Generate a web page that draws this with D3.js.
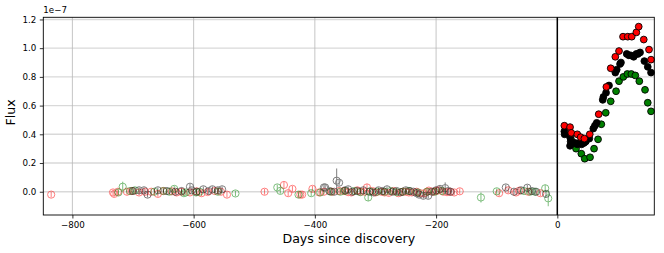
<!DOCTYPE html>
<html>
<head>
<meta charset="utf-8">
<script src="https://cdn.jsdelivr.net/npm/d3@7"></script>
<style>
  body { margin: 0; background: #fff; }
  text { font-family: "DejaVu Sans", sans-serif; fill: #000; }
</style>
</head>
<body>
<div id="chart"></div>
<script>
// flux in units of 1e-7, days since discovery

// detections after discovery (filled markers)
var rDays = [11.6, 21, 23, 33, 38.6, 44.6, 53.5, 68.3, 80.9, 88.1, 95.7, 101.8, 108.4, 116.2, 122.8, 130.4, 134.3, 142.6, 151.3, 154.6];
var rFlux = [0.46, 0.45, 0.41, 0.40, 0.38, 0.37, 0.40, 0.54, 0.73, 0.86, 0.94, 0.98, 1.08, 1.08, 1.08, 1.11, 1.15, 1.06, 0.99, 0.92];

var kDays = [11.6, 12, 21, 21, 22, 29.2, 33, 36.3, 40, 44.1, 47, 52.8, 59.4, 62, 65, 74.9, 76, 80.4, 85.3, 95.7, 98, 103.5, 105, 114.5, 118, 121.1, 126, 130.4, 133, 136.5, 143.6, 149.2, 154.6];
var kFlux = [0.42, 0.40, 0.38, 0.32, 0.35, 0.34, 0.33, 0.34, 0.33, 0.34, 0.35, 0.37, 0.44, 0.46, 0.48, 0.64, 0.66, 0.69, 0.74, 0.83, 0.85, 0.89, 0.90, 0.96, 0.95, 0.95, 0.94, 0.96, 0.96, 0.97, 0.91, 0.87, 0.83];

var gDays = [22.6, 30.9, 39.6, 45.2, 54, 60.6, 67.2, 72.6, 79.9, 88.1, 96.9, 101.8, 108.9, 115.5, 122.1, 128.7, 135.3, 144.7, 149.2, 154.6];
var gFlux = [0.365, 0.30, 0.265, 0.23, 0.24, 0.30, 0.365, 0.47, 0.55, 0.63, 0.70, 0.77, 0.80, 0.82, 0.82, 0.81, 0.77, 0.71, 0.62, 0.56];

// pre-discovery forced photometry (open markers with error bars)
var rPreDays = [-835, -733, -731, -725, -710, -702, -690, -680, -670, -659,
                -650, -636, -628, -620, -606, -595, -587, -577, -565, -555,
                -545, -483, -451, -444, -437, -424, -421, -404, -393, -385,
                -372, -360, -352, -345, -340, -330, -325, -318, -314, -305,
                -300, -290, -285, -278, -270, -262, -255, -250, -245, -240,
                -232, -226, -220, -215, -212, -205, -200, -196, -188, -182,
                -177, -170, -161, -96, -81, -68, -63, -48, -28];
var rPreFlux = [-0.02, -0.005, -0.015, 0.0, 0.0, 0.005, -0.005, 0.0, 0.0, -0.015,
                0.005, 0.003, -0.005, 0.0, -0.005, 0.003, -0.01, -0.002, 0.005, 0.0,
                -0.02, 0.0, 0.047, -0.01, 0.02, -0.02, -0.02, 0.02, -0.005, 0.0,
                0.0, 0.005, 0.005, -0.003, -0.005, 0.01, 0.0, 0.0, 0.03, 0.005,
                -0.005, 0.0, -0.005, -0.008, 0.005, -0.01, 0.0, 0.0, -0.005, -0.005,
                0.0, -0.01, -0.012, 0.0, 0.008, 0.0, 0.005, 0.01, 0.0, -0.003,
                0.0, -0.005, 0.003, -0.01, 0.01, -0.005, 0.007, 0.0, -0.01];
var rPreErr = [0.02, 0.02, 0.02, 0.02, 0.02, 0.02, 0.02, 0.02, 0.02, 0.02,
               0.02, 0.02, 0.02, 0.02, 0.02, 0.02, 0.02, 0.02, 0.02, 0.02,
               0.02, 0.02, 0.025, 0.02, 0.02, 0.02, 0.02, 0.02, 0.02, 0.02,
               0.02, 0.02, 0.02, 0.02, 0.02, 0.02, 0.02, 0.02, 0.025, 0.02,
               0.02, 0.02, 0.02, 0.02, 0.02, 0.02, 0.02, 0.02, 0.02, 0.02,
               0.02, 0.02, 0.02, 0.02, 0.02, 0.02, 0.02, 0.02, 0.02, 0.02,
               0.02, 0.02, 0.02, 0.02, 0.02, 0.02, 0.02, 0.02, 0.02];

var gPreDays = [-724, -717, -705, -697, -665, -650, -640, -632, -616, -613,
                -596, -590, -560, -531, -462, -457, -427, -406, -391, -374,
                -358, -350, -335, -325, -312, -309, -297, -285, -275, -265,
                -255, -245, -230, -215, -202, -190, -126, -100, -55, -45,
                -37, -20, -15];
var gPreFlux = [-0.005, 0.035, 0.005, 0.01, 0.0, 0.005, 0.0, 0.02, -0.01, -0.005,
                -0.005, 0.0, 0.0, -0.012, 0.03, 0.006, -0.02, -0.01, -0.005, 0.0,
                0.0, 0.005, 0.005, -0.003, -0.04, 0.003, 0.0, 0.0, 0.005, -0.003,
                0.0, 0.005, -0.005, 0.0, 0.0, 0.005, -0.04, 0.003, 0.005, 0.0,
                0.0, 0.024, -0.046];
var gPreErr = [0.02, 0.035, 0.02, 0.02, 0.02, 0.02, 0.02, 0.02, 0.02, 0.02,
               0.02, 0.02, 0.02, 0.02, 0.02, 0.02, 0.02, 0.02, 0.02, 0.02,
               0.02, 0.02, 0.02, 0.02, 0.025, 0.02, 0.02, 0.02, 0.02, 0.02,
               0.02, 0.02, 0.02, 0.02, 0.02, 0.02, 0.035, 0.02, 0.02, 0.02,
               0.02, 0.025, 0.055];

var kPreDays = [-700, -690, -682, -676, -659, -644, -630, -620, -606, -603,
                -595, -584, -575, -569, -560, -553, -385, -383, -376, -368,
                -364, -360, -350, -345, -338, -330, -320, -310, -303, -295,
                -288, -281, -272, -265, -258, -250, -243, -237, -232, -228,
                -221, -213, -207, -200, -193.5, -185, -180, -176, -85, -71.5,
                -60, -49.5, -42, -35, -18.6];
var kPreFlux = [0.005, 0.01, 0.01, -0.02, 0.01, 0.005, 0.0, 0.005, 0.035, 0.01,
                0.0, 0.017, 0.005, 0.017, 0.01, 0.017, 0.03, 0.03, 0.005, 0.0,
                0.077, 0.063, 0.01, 0.017, 0.0, 0.005, 0.01, 0.0, -0.005, 0.01,
                0.005, 0.017, 0.0, 0.005, -0.003, 0.01, 0.005, 0.0, -0.01, -0.02,
                -0.028, -0.028, 0.0, 0.01, 0.02, 0.025, 0.005, 0.0, 0.03, 0.0,
                0.01, 0.028, 0.005, 0.0, -0.015];
var kPreErr = [0.02, 0.02, 0.02, 0.02, 0.02, 0.02, 0.02, 0.02, 0.02, 0.02,
               0.02, 0.02, 0.02, 0.02, 0.02, 0.02, 0.02, 0.02, 0.02, 0.02,
               0.085, 0.02, 0.02, 0.02, 0.02, 0.02, 0.02, 0.02, 0.02, 0.02,
               0.02, 0.02, 0.02, 0.02, 0.02, 0.02, 0.02, 0.02, 0.02, 0.02,
               0.02, 0.02, 0.02, 0.02, 0.025, 0.04, 0.02, 0.02, 0.02, 0.02,
               0.02, 0.02, 0.02, 0.02, 0.025];

var xTicks = [-800, -600, -400, -200, 0];
var yTicks = [0.0, 0.2, 0.4, 0.6, 0.8, 1.0, 1.2];

var width = 664,
    height = 253,
    plotLeft = 43.3, plotRight = 654.3, plotTop = 17.3, plotBottom = 215;

var x = d3.scaleLinear().domain([-848, 160]).range([plotLeft, plotRight]);
var y = d3.scaleLinear().domain([-0.162, 1.215]).range([plotBottom, plotTop]);

var svg = d3.select("#chart")
    .append("svg")
    .attr("width", width)
    .attr("height", height);

// grid
svg.append("g")
    .selectAll("line")
    .data(yTicks)
    .enter().append("line")
    .attr("x1", plotLeft).attr("x2", plotRight)
    .attr("y1", function (d) { return y(d); })
    .attr("y2", function (d) { return y(d); })
    .attr("stroke", "#d9d9d9")
    .attr("stroke-width", 1.4);

svg.append("g")
    .selectAll("line")
    .data(xTicks)
    .enter().append("line")
    .attr("y1", plotTop).attr("y2", plotBottom)
    .attr("x1", function (d) { return x(d); })
    .attr("x2", function (d) { return x(d); })
    .attr("stroke", "#b8b8b8")
    .attr("stroke-width", 0.8);

// discovery line
svg.append("line")
    .attr("x1", x(0)).attr("x2", x(0))
    .attr("y1", plotTop).attr("y2", plotBottom)
    .attr("stroke", "#000")
    .attr("stroke-width", 1.5);

function zip(days, flux, err) {
    return days.map(function (d, i) {
        return { day: d, flux: flux[i], err: err ? err[i] : 0 };
    });
}

function drawPre(data, color) {
    var g = svg.append("g").attr("opacity", 0.5);
    g.selectAll("line")
        .data(data)
        .enter().append("line")
        .attr("x1", function (d) { return x(d.day); })
        .attr("x2", function (d) { return x(d.day); })
        .attr("y1", function (d) { return y(d.flux - d.err); })
        .attr("y2", function (d) { return y(d.flux + d.err); })
        .attr("stroke", color)
        .attr("stroke-width", 1);
    g.selectAll("circle")
        .data(data)
        .enter().append("circle")
        .attr("cx", function (d) { return x(d.day); })
        .attr("cy", function (d) { return y(d.flux); })
        .attr("r", 3.6)
        .attr("fill", "none")
        .attr("stroke", color)
        .attr("stroke-width", 1);
}

drawPre(zip(rPreDays, rPreFlux, rPreErr), "#ff0000");
drawPre(zip(gPreDays, gPreFlux, gPreErr), "#008000");
drawPre(zip(kPreDays, kPreFlux, kPreErr), "#000000");

function drawPost(data, color) {
    svg.append("g")
        .selectAll("circle")
        .data(data)
        .enter().append("circle")
        .attr("cx", function (d) { return x(d.day); })
        .attr("cy", function (d) { return y(d.flux); })
        .attr("r", 3.4)
        .attr("fill", color)
        .attr("stroke", "#000")
        .attr("stroke-width", 0.9);
}

drawPost(zip(gDays, gFlux), "#008000");
drawPost(zip(kDays, kFlux), "#000000");
drawPost(zip(rDays, rFlux), "#ff0000");

// frame
svg.append("rect")
    .attr("x", plotLeft).attr("y", plotTop)
    .attr("width", plotRight - plotLeft).attr("height", plotBottom - plotTop)
    .attr("fill", "none")
    .attr("stroke", "#000")
    .attr("stroke-width", 0.9);

// axes
var xAxis = d3.axisBottom(x)
    .tickValues(xTicks)
    .tickSize(3.5)
    .tickPadding(3.5)
    .tickFormat(function (d) { return d < 0 ? "\u2212" + Math.abs(d) : d; });

var yAxis = d3.axisLeft(y)
    .tickValues(yTicks)
    .tickSize(3.5)
    .tickPadding(3.5)
    .tickFormat(d3.format(".1f"));

var gx = svg.append("g")
    .attr("transform", "translate(0," + plotBottom + ")")
    .call(xAxis);
var gy = svg.append("g")
    .attr("transform", "translate(" + plotLeft + ",0)")
    .call(yAxis);

[gx, gy].forEach(function (g) {
    g.select(".domain").remove();
    g.selectAll(".tick line").attr("stroke", "#000").attr("stroke-width", 0.8);
    g.selectAll(".tick text")
        .style("font-family", "DejaVu Sans")
        .style("font-size", "8.7px")
        .attr("fill", "#000");
});

svg.append("text")
    .attr("x", plotLeft)
    .attr("y", 13)
    .style("font-size", "8.7px")
    .text("1e\u22127");

svg.append("text")
    .attr("x", (plotLeft + plotRight) / 2)
    .attr("y", 243)
    .attr("text-anchor", "middle")
    .style("font-size", "12.6px")
    .text("Days since discovery");

svg.append("text")
    .attr("transform", "translate(15.3,112.5) rotate(-90)")
    .attr("text-anchor", "middle")
    .style("font-size", "12.6px")
    .text("Flux");
</script>
</body>
</html>
